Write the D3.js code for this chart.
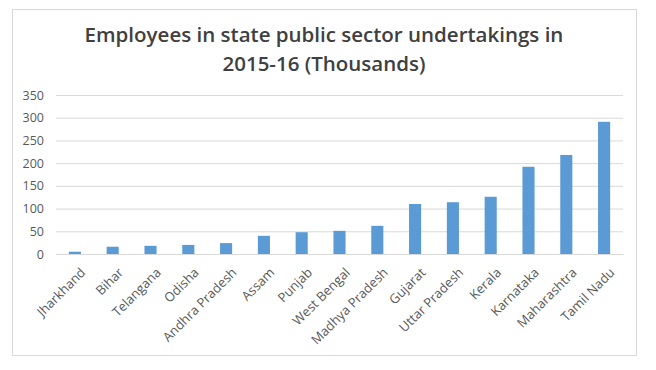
<!DOCTYPE html>
<html><head><meta charset="utf-8">
<script src="https://cdn.jsdelivr.net/npm/d3@7"></script>
<style>body{margin:0;background:#fff}svg{display:block}</style>
</head><body>
<script>
const categories = ["Jharkhand","Bihar","Telangana","Odisha","Andhra Pradesh","Assam","Punjab","West Bengal","Madhya Pradesh","Gujarat","Uttar Pradesh","Kerala","Karnataka","Maharashtra","Tamil Nadu"];
const values = [5,16,18,20,24,40,48,51,62,110,114,126,192,218,291];
const yTicks = [0,50,100,150,200,250,300,350];
const titleLines = ["Employees in state public sector undertakings in","2015-16 (Thousands)"];

const W=656,H=370;
const svg=d3.select("body").append("svg").attr("width",W).attr("height",H);
svg.append("rect").attr("x",12.5).attr("y",9.5).attr("width",624).attr("height",346)
  .attr("fill","#fff").attr("stroke","#d9d9d9");

const x=d3.scaleBand().domain(categories).range([56,623]).paddingInner(0.68).paddingOuter(0.34);
const y=d3.scaleLinear().domain([0,350]).range([254,95]);

const tf="'Open Sans', 'Liberation Sans', sans-serif";
svg.selectAll("text.title").data(titleLines).enter().append("text")
  .attr("x",324).attr("y",(d,i)=>42+i*29).attr("text-anchor","middle")
  .attr("font-family",tf).attr("font-size",20.5).attr("font-weight",600).attr("fill","#404040").text(d=>d);

const ya=svg.append("g").attr("transform","translate(56,0)")
  .call(d3.axisLeft(y).tickValues(yTicks).tickSize(-567).tickPadding(12));
ya.select(".domain").remove();
ya.selectAll("line").attr("stroke","#d9d9d9");
ya.selectAll("text").attr("font-family",tf).attr("font-size",12.5).attr("fill","#595959");

svg.selectAll("rect.bar").data(values).enter().append("rect")
  .attr("x",(d,i)=>x(categories[i])).attr("width",x.bandwidth())
  .attr("y",d=>y(d)).attr("height",d=>y(0)-y(d)).attr("fill","#5b9bd5");

const xa=svg.append("g").attr("transform","translate(0,254)").call(d3.axisBottom(x).tickSize(0));
xa.select(".domain").attr("stroke","#d9d9d9");
xa.selectAll("text").attr("font-family",tf).attr("font-size",13).attr("fill","#595959")
  .attr("text-anchor","end").attr("dx","0em").attr("dy","0.35em")
  .attr("transform","translate(6,14) rotate(-45)");
</script>
</body></html>
